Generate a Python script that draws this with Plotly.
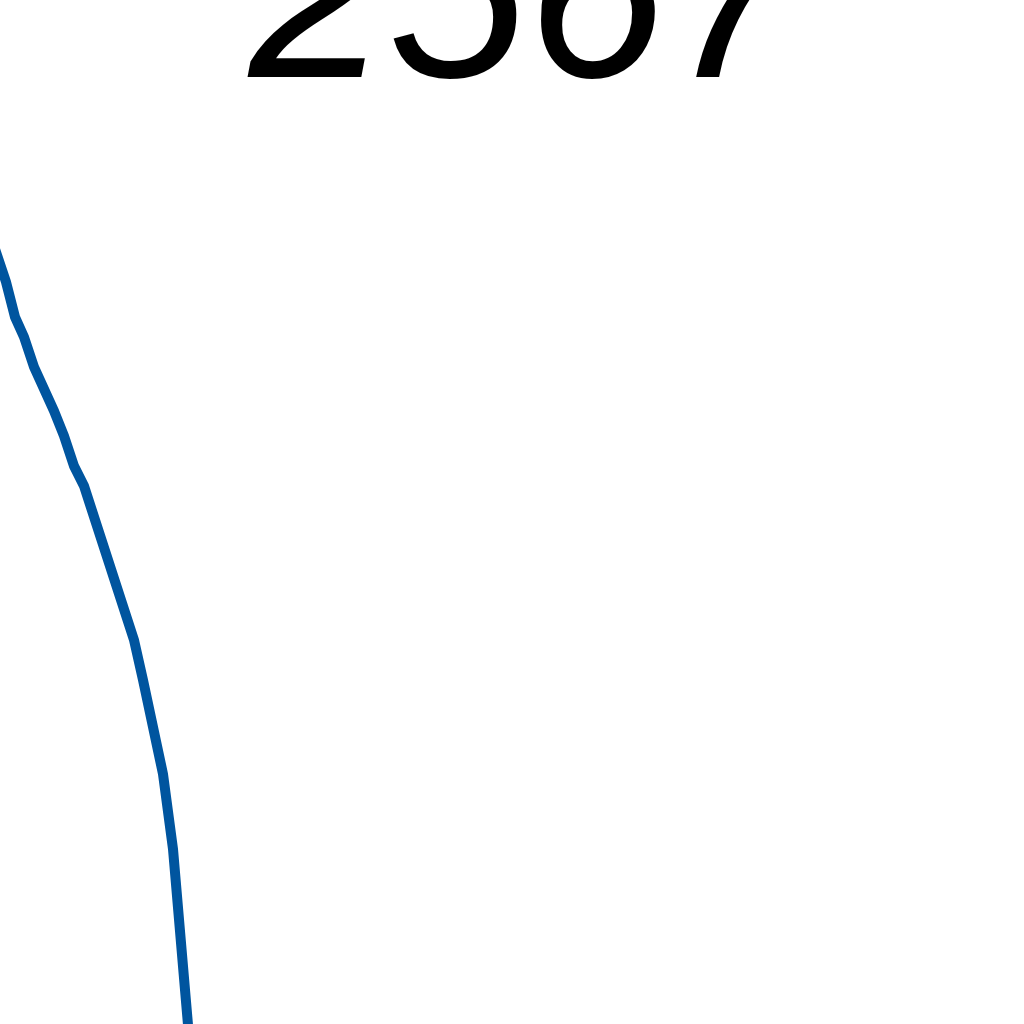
import plotly.graph_objects as go

# Label shown at the top of the view (only its lower half is visible)
label_text = "2567"

# Line series (horizontal value, vertical value; vertical axis runs downward)
line_x = [-10, 6, 15, 24, 34, 44, 54, 64, 74, 84, 94, 104, 114, 124, 134, 143, 153, 163, 173, 183, 191]
line_y = [234, 282, 317, 337, 367, 387, 411, 436, 466, 486, 516, 546, 575, 605, 640, 680, 724, 774, 849, 948, 1060]

fig = go.Figure()
fig.add_trace(go.Scatter(
    x=line_x, y=line_y, mode="lines",
    line=dict(color="#00559f", width=10),
    hoverinfo="skip", showlegend=False,
))

fig.add_annotation(
    text=label_text, xref="paper", yref="paper",
    x=0.5176, y=1.0094, xanchor="center", yanchor="middle",
    showarrow=False,
    font=dict(family="Liberation Sans", size=250, color="#000000", style="italic"),
)

fig.update_layout(
    width=1024, height=1024,
    margin=dict(l=0, r=0, t=0, b=0),
    paper_bgcolor="#ffffff", plot_bgcolor="#ffffff",
    xaxis=dict(range=[0, 1024], visible=False, fixedrange=True),
    yaxis=dict(range=[1024, 0], visible=False, fixedrange=True),
    showlegend=False,
)

fig.write_html(
    "out.html",
    config={"displayModeBar": False},
    post_script="document.body.style.margin='0';document.body.style.overflow='hidden';",
)
